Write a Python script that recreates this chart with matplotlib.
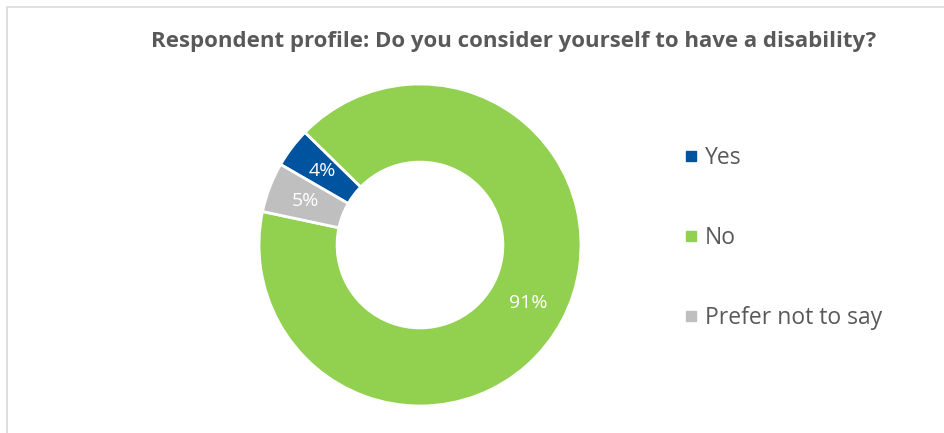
import matplotlib
matplotlib.use("Agg")
import matplotlib.pyplot as plt
from matplotlib.lines import Line2D
from matplotlib.patches import Rectangle

categories = ["Yes", "No", "Prefer not to say"]
values = [4, 91, 5]
colors = ["#00539F", "#92D050", "#BFBFBF"]
title = "Respondent profile: Do you consider yourself to have a disability?"

plt.rcParams['font.family'] = ['Open Sans', 'DejaVu Sans']
W, H = 944, 433
fig = plt.figure(figsize=(W / 100, H / 100), dpi=100)

# chart area border
fig.patches.append(Rectangle((7 / W, -0.1), 1.2, 1 - 7 / H + 0.1, transform=fig.transFigure,
                             fill=False, edgecolor="#D9D9D9", linewidth=1.2))

cx, cy, r = 420, 245, 161
ax = fig.add_axes([(cx - r) / W, (H - cy - r) / H, 2 * r / W, 2 * r / H])
wedges, texts, autotexts = ax.pie(
    values, colors=colors, startangle=150, counterclock=False,
    radius=1, autopct=lambda p: f"{p:.0f}%", pctdistance=0.76,
    wedgeprops=dict(width=0.485, edgecolor="white", linewidth=2),
    textprops=dict(color="white", fontsize=14))
ax.set_xlim(-1, 1)
ax.set_ylim(-1, 1)
ax.set_aspect("equal")
ax.axis("off")

fig.text(514 / W, 1 - 42 / H, title, ha="center", va="center", fontsize=16,
         fontweight="bold", color="#595959")

handles = [Line2D([], [], marker="s", linestyle="", color=c, markersize=7) for c in colors]
fig.legend(handles, categories, loc="center left", bbox_to_anchor=(675 / W, 1 - 238 / H),
           frameon=False, fontsize=16.5, labelcolor="#595959", labelspacing=2.45,
           handlelength=0.6, handletextpad=0.3, borderaxespad=0)

fig.savefig("out.png", dpi=100)
